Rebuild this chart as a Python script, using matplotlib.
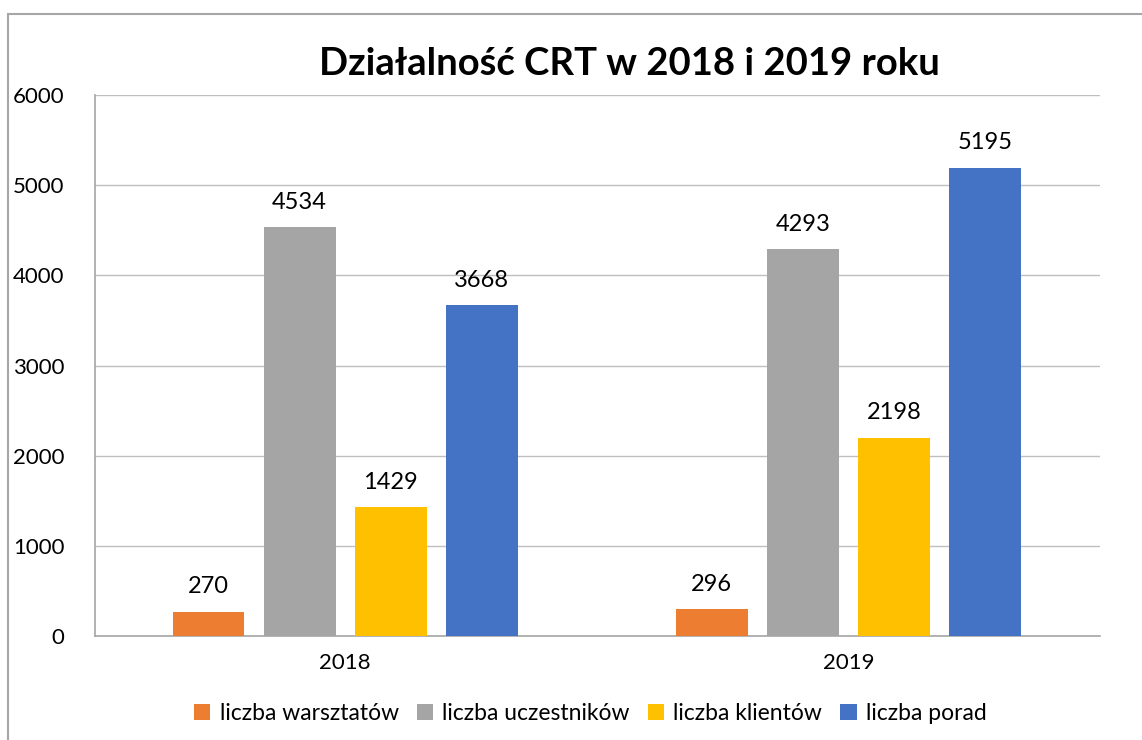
import numpy as np
import matplotlib
matplotlib.use('Agg')
import matplotlib.pyplot as plt
from matplotlib.patches import Rectangle

plt.rcParams['font.family'] = ['Lato', 'DejaVu Sans']

lata = ['2018', '2019']
serie = ['liczba warsztatów', 'liczba uczestników', 'liczba klientów', 'liczba porad']
warsztaty = [270, 296]
uczestnicy = [4534, 4293]
klienci = [1429, 2198]
porady = [3668, 5195]
wartosci = [warsztaty, uczestnicy, klienci, porady]
kolory = ['#ED7D31', '#A5A5A5', '#FFC000', '#4472C4']

fig = plt.figure(figsize=(11.42, 7.40), dpi=100)
ax = fig.add_axes([0.0832, 0.1405, 0.88, 0.7311])

x = np.arange(len(lata))
krok = 0.181
szer = 0.143
for i, (nazwa, dane, kol) in enumerate(zip(serie, wartosci, kolory)):
    pos = x + (i - 1.5) * krok
    bars = ax.bar(pos, dane, width=szer, color=kol, label=nazwa, zorder=3)
    for b in bars:
        ax.text(b.get_x() + b.get_width() / 2, b.get_height() + 160,
                f'{int(b.get_height())}', ha='center', va='bottom', fontsize=17)

ax.set_xlim(-0.497, 1.5)
ax.set_ylim(0, 6000)
ax.set_yticks(range(0, 6001, 1000))
ax.set_xticks(x)
ax.set_xticklabels(lata)
ax.tick_params(axis='both', length=0, labelsize=16)
ax.tick_params(axis='y', pad=22)
ax.tick_params(axis='x', pad=12)
ax.grid(axis='y', color='#BFBFBF', linewidth=1, zorder=0)
for s in ['top', 'right']:
    ax.spines[s].set_visible(False)
for s in ['left', 'bottom']:
    ax.spines[s].set_color('#A6A6A6')
    ax.spines[s].set_linewidth(1.2)

fig.text(0.551, 0.914, 'Działalność CRT w 2018 i 2019 roku', ha='center', va='center',
         fontsize=27.5, fontweight='bold')

fig.legend(loc='center', bbox_to_anchor=(0.517, 0.036), ncol=4, frameon=False,
           fontsize=16.5, handlelength=0.7, handleheight=0.7, handletextpad=0.4,
           columnspacing=0.8)

ramka = Rectangle((8 / 1142, -0.1), 1.2, (740 - 14) / 740 + 0.1, transform=fig.transFigure,
                  fill=False, edgecolor='#A6A6A6', linewidth=1.5, clip_on=False)
fig.patches.append(ramka)

plt.savefig('out.png', dpi=100)
